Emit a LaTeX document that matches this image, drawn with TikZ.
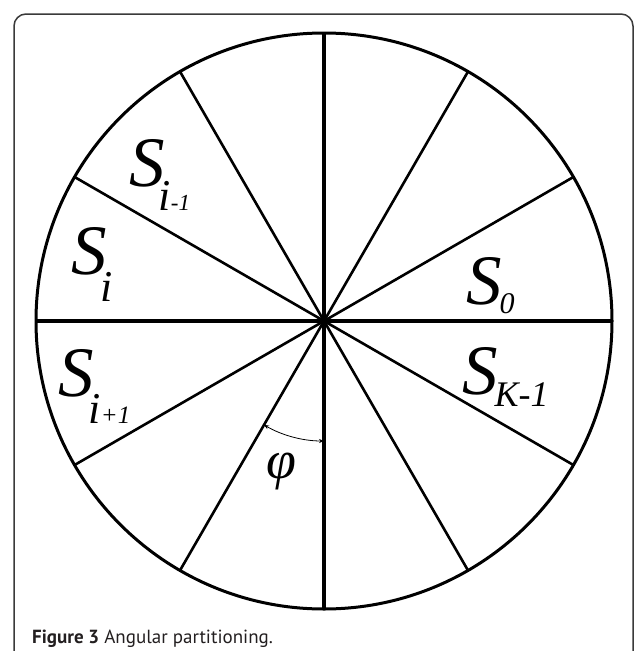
\documentclass[tikz,border=0pt]{standalone}
\usepackage{fontspec}
\setmainfont{Liberation Serif}
\newfontfamily\capfont{PT Sans}
\usetikzlibrary{arrows.meta}
\definecolor{captxt}{HTML}{231F20}
\definecolor{framecol}{HTML}{3A3A3A}
\newcommand\bigS{{\fontsize{71}{71}\selectfont\itshape S}}
\newcommand\fsz[1]{\fontsize{#1}{#1}\selectfont\itshape}
\begin{document}
\begin{tikzpicture}[x=1pt,y=-1pt,
  spoke/.style={line width=2.6pt,line cap=round},
  mainspoke/.style={line width=3.4pt},
  rim/.style={line width=3pt},
  lbl/.style={anchor=base west,inner sep=0pt,text=black},
  angarrow/.style={line width=0.8pt,{Stealth[length=5pt,width=4pt]}-{Stealth[length=5pt,width=4pt]}}]
\useasboundingbox (0,0) rectangle (635,651);
\fill[white] (0,0) rectangle (635,651);
% frame
\draw[framecol,line width=1.5pt,rounded corners=12pt] (14,14) rectangle (633,720);
% wheel
\coordinate (O) at (324,321);
\foreach \a [count=\i from 0] in {30,60,120,150,210,240,300,330}{
  \path (O) ++(\a:288) coordinate (p\i);
  \draw[spoke] (O) -- (p\i);
}
\foreach \a [count=\i from 0] in {0,90,180,270}{
  \path (O) ++(\a:288) coordinate (q\i);
  \draw[mainspoke] (O) -- (q\i);
}
\draw[rim] (O) circle[radius=288];
% angle arrow
\path (O) ++(120:120) coordinate (a1);
\path (O) ++(90:120) coordinate (a2);
\draw[angarrow] (a1) arc[start angle=120,end angle=90,radius=120];
% labels
\node[lbl] (sim1) at (129,186) {\bigS\kern-6pt\raisebox{-24pt}{\fsz{44}i\fsz{23}-1}};
\node[lbl] (si) at (71,274) {\bigS\kern-6pt\raisebox{-27pt}{\fsz{44}i}};
\node[lbl] (sip1) at (58,396) {\bigS\kern-5pt\raisebox{-27pt}{\fsz{44}i\fsz{25}+1}};
\node[lbl] (s0) at (466,304) {\bigS\kern-2pt\raisebox{-9pt}{\fsz{30}0}};
\node[lbl] (sk) at (462,394) {\bigS\kern-3pt\raisebox{-12pt}{\fsz{36}K-1}};
\node[lbl] (phi) at (266,478) {\fontsize{54}{54}\selectfont\itshape φ};
% caption
\node[anchor=base west,inner sep=0pt,text=captxt] (cap) at (32,643)
  {\capfont\fontsize{19}{19}\selectfont\textbf{Figure 3} Angular partitioning.};
\end{tikzpicture}
\end{document}
